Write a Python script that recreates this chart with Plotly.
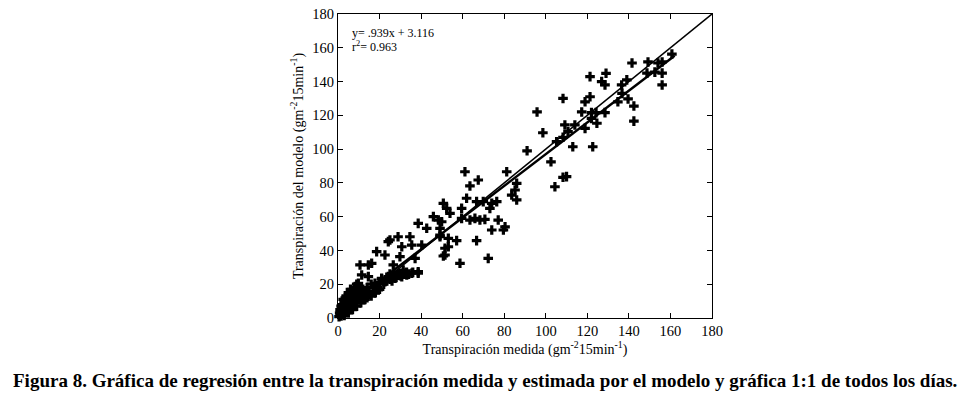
import plotly.graph_objects as go

measured = [
    0.5, 1, 1.2, 1.5, 2, 2, 2.5, 3, 3, 3.5, 4, 4, 4.5, 5, 5, 5.5, 6, 6, 6.5, 7, 7, 7.5, 8, 8, 8.5, 9, 9, 10, 10, 11, 11, 12,
    1, 2, 3, 4, 5, 6, 3, 5, 7, 9, 11, 13, 12, 13, 14, 15, 16, 17, 18, 19, 20, 1.5, 2.5, 3.5, 0.8, 4, 6, 8, 10, 7, 9, 12,
    14, 16, 18, 20, 22, 23, 25, 26, 28, 29, 30, 32, 33, 34, 36, 25, 27, 21,
    24.2, 30.7, 35.5, 18.6, 22.6, 29.8, 37.1, 10.6, 14.6, 16.2, 26.6, 31.4, 38.6, 11.4, 14.6, 21, 24.2, 27.4, 30.7, 33.1,
    35.5, 9.8, 17.8, 22.6, 14.6, 19.4, 8.2, 25, 28.9, 34.6, 38.6, 49.1, 51.5, 38.6,
    61.1, 81.2, 63.5, 67.5, 86, 85.2, 83.6, 86, 61.9, 50.7, 52.3, 53.9, 66.7, 69.9, 74, 76.4, 73.1, 59.5, 45.9, 48.3,
    49.9, 59.5, 65.9, 68.3, 70.7, 77.1, 63.5, 42.7, 49.1, 74, 80.4, 79.6, 49.1, 53.1, 57.1, 66.7, 53.1, 51.5, 50.7, 72.3,
    58.7, 40.3,
    121.3, 129, 126.9, 128.5, 136.5, 108.3, 121.3, 118.9, 134.7, 95.8, 117.3, 122, 124.2, 128.5, 122, 124.6, 109.2, 114,
    118.9, 110.7, 98.6, 108.3, 105.2, 91, 113, 122.6, 102.5, 108.3, 110, 104.4,
    141.5, 149.2, 154, 156, 160.7, 148.7, 152.5, 156, 156, 139, 136.7, 139.6, 142.4, 142.4,
]
modeled = [
    0.8, 2, 3.5, 1.2, 4, 6, 2.5, 5, 8, 3, 6, 10, 4.5, 7, 12, 5, 9, 14, 6.5, 11, 16, 8, 12, 18, 9.5, 13, 20, 11, 15, 13, 18, 14,
    5, 8, 10, 13, 15, 17, 1.5, 3, 5, 7, 9, 11, 17, 15, 12, 14, 13, 16, 15, 18, 17, 7, 11, 12, 3, 8, 11, 14, 17, 9.5, 10.5, 11,
    18, 20, 19, 21, 20, 22, 23, 22, 24, 26, 25, 26, 27, 26, 27, 26, 27, 23,
    45.2, 42.2, 43.2, 39.3, 37.3, 36.3, 35.3, 31.4, 31.4, 32.4, 31.4, 28.4, 26.5, 25.5, 24.5, 23.5, 24.5, 23.5, 24.5, 25.5,
    26.5, 20.5, 20.5, 21.5, 15.6, 16.6, 16.6, 46.2, 48.1, 48.1, 56, 48.1, 37.3, 27.4,
    86.6, 86.6, 78.2, 81.7, 79.7, 75.8, 72.8, 69.9, 70.9, 67.9, 64.9, 62, 68.9, 68.9, 67.9, 68.9, 64.9, 64.9, 60, 58,
    57, 59, 59, 58, 58.4, 58, 58, 53.1, 53.1, 52.1, 54, 52.1, 49.1, 47.2, 45.8, 45.8, 42.2, 41.3, 36.7, 35.3,
    32.4, 43.2,
    142.9, 144.9, 140, 138, 138, 130, 131, 128, 128, 122, 122, 121.6, 121.6, 121.6, 118.2, 115.3, 114.3, 114.3,
    112.3, 110.3, 109.7, 107, 104.4, 99, 101.4, 101.4, 92.5, 83.3, 83.7, 77.7,
    151, 151.6, 151, 151.6, 156.3, 145, 145.6, 145, 138, 141, 133, 129.7, 125.5, 116.6,
]

slope = 0.939
intercept = 3.116
fit_x = [0, 162]
identity_x = [0, 180]
ticks = [0, 20, 40, 60, 80, 100, 120, 140, 160, 180]

FONT = "Liberation Serif, Times New Roman, serif"

fig = go.Figure()
fig.add_trace(go.Scatter(
    x=measured, y=modeled, mode="markers",
    marker=dict(symbol="cross", size=8, color="black", line=dict(width=0)),
    showlegend=False, cliponaxis=False,
))
fig.add_trace(go.Scatter(
    x=identity_x, y=identity_x, mode="lines",
    line=dict(color="black", width=1.5), showlegend=False,
))
fig.add_trace(go.Scatter(
    x=fit_x, y=[slope * v + intercept for v in fit_x], mode="lines",
    line=dict(color="black", width=2.5), showlegend=False,
))

axis_common = dict(
    range=[0, 180], tickvals=ticks, ticktext=[str(t) for t in ticks],
    ticks="inside", ticklen=5, tickcolor="black", tickwidth=1,
    showline=True, linecolor="black", linewidth=1, mirror="ticks",
    showgrid=False, zeroline=False, automargin=False,
    ticklabeloverflow="allow",
    tickfont=dict(family=FONT, size=14.5, color="black"),
)

fig.update_layout(
    width=974, height=396,
    margin=dict(l=330, r=270, t=6, b=86),
    paper_bgcolor="white", plot_bgcolor="white",
    font=dict(family=FONT, color="black"),
    xaxis=dict(**axis_common,
               title=dict(text="Transpiración medida (gm<sup>-2</sup>15min<sup>-1</sup>)",
                          font=dict(family=FONT, size=14, color="black"), standoff=3)),
    yaxis=dict(**axis_common,
               title=dict(text="Transpiración del modelo (gm<sup>-2</sup>15min<sup>-1</sup>)",
                          font=dict(family=FONT, size=14, color="black"), standoff=5)),
    annotations=[
        dict(text="y= .939x + 3.116", xref="paper", yref="paper", x=0.032, y=0.9375,
             xanchor="left", yanchor="middle", showarrow=False,
             font=dict(family=FONT, size=12, color="black")),
        dict(text="r<sup>2</sup>= 0.963", xref="paper", yref="paper", x=0.032, y=0.893,
             xanchor="left", yanchor="middle", showarrow=False,
             font=dict(family=FONT, size=12, color="black")),
        dict(text="<b>Figura 8. Gráfica de regresión entre la transpiración medida y estimada por el modelo y gráfica 1:1 de todos los días.</b>",
             xref="paper", yref="paper", x=0.394, y=-0.204,
             xanchor="center", yanchor="middle", showarrow=False,
             font=dict(family=FONT, size=19, color="black")),
    ],
)

fig.write_html("out.html")
